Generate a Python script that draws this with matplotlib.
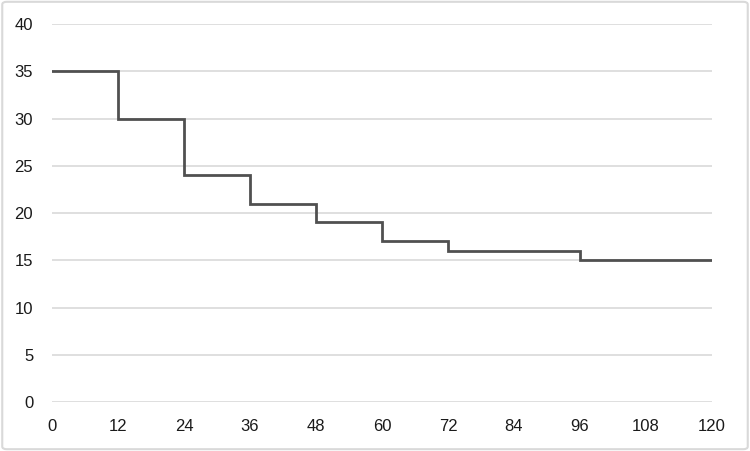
import matplotlib.pyplot as plt
from matplotlib.patches import FancyBboxPatch

months = [0, 12, 24, 36, 48, 60, 72, 84, 96, 108, 120]
values = [35, 30, 24, 21, 19, 17, 16, 16, 15, 15, 15]
yticks = [0, 5, 10, 15, 20, 25, 30, 35, 40]

plt.rcParams['font.family'] = ['Liberation Sans', 'DejaVu Sans']

fig = plt.figure(figsize=(7.5, 4.51), dpi=100)
ax = fig.add_axes([0.0693, 0.1086, 0.88, 0.8382])

ax.plot(months, values, drawstyle='steps-post', color='#505050', lw=2.0, solid_joinstyle='miter')

ax.set_xlim(0, 120)
ax.set_ylim(0, 40)
ax.set_xticks(months)
ax.set_yticks(yticks)
ax.grid(axis='y', color='#d9d9d9', lw=1.2)
ax.set_axisbelow(True)
for s in ax.spines.values():
    s.set_visible(False)
ax.tick_params(length=0, labelsize=12, colors='#1a1a1a')
ax.tick_params(axis='y', pad=13.5)
ax.tick_params(axis='x', pad=12)

border = FancyBboxPatch((0.003, 0.004), 0.994, 0.992, boxstyle='round,pad=0,rounding_size=0.006',
                        transform=fig.transFigure, fill=False, ec='#d9d9d9', lw=1.5)
fig.patches.append(border)

fig.savefig('out.png', dpi=100)
